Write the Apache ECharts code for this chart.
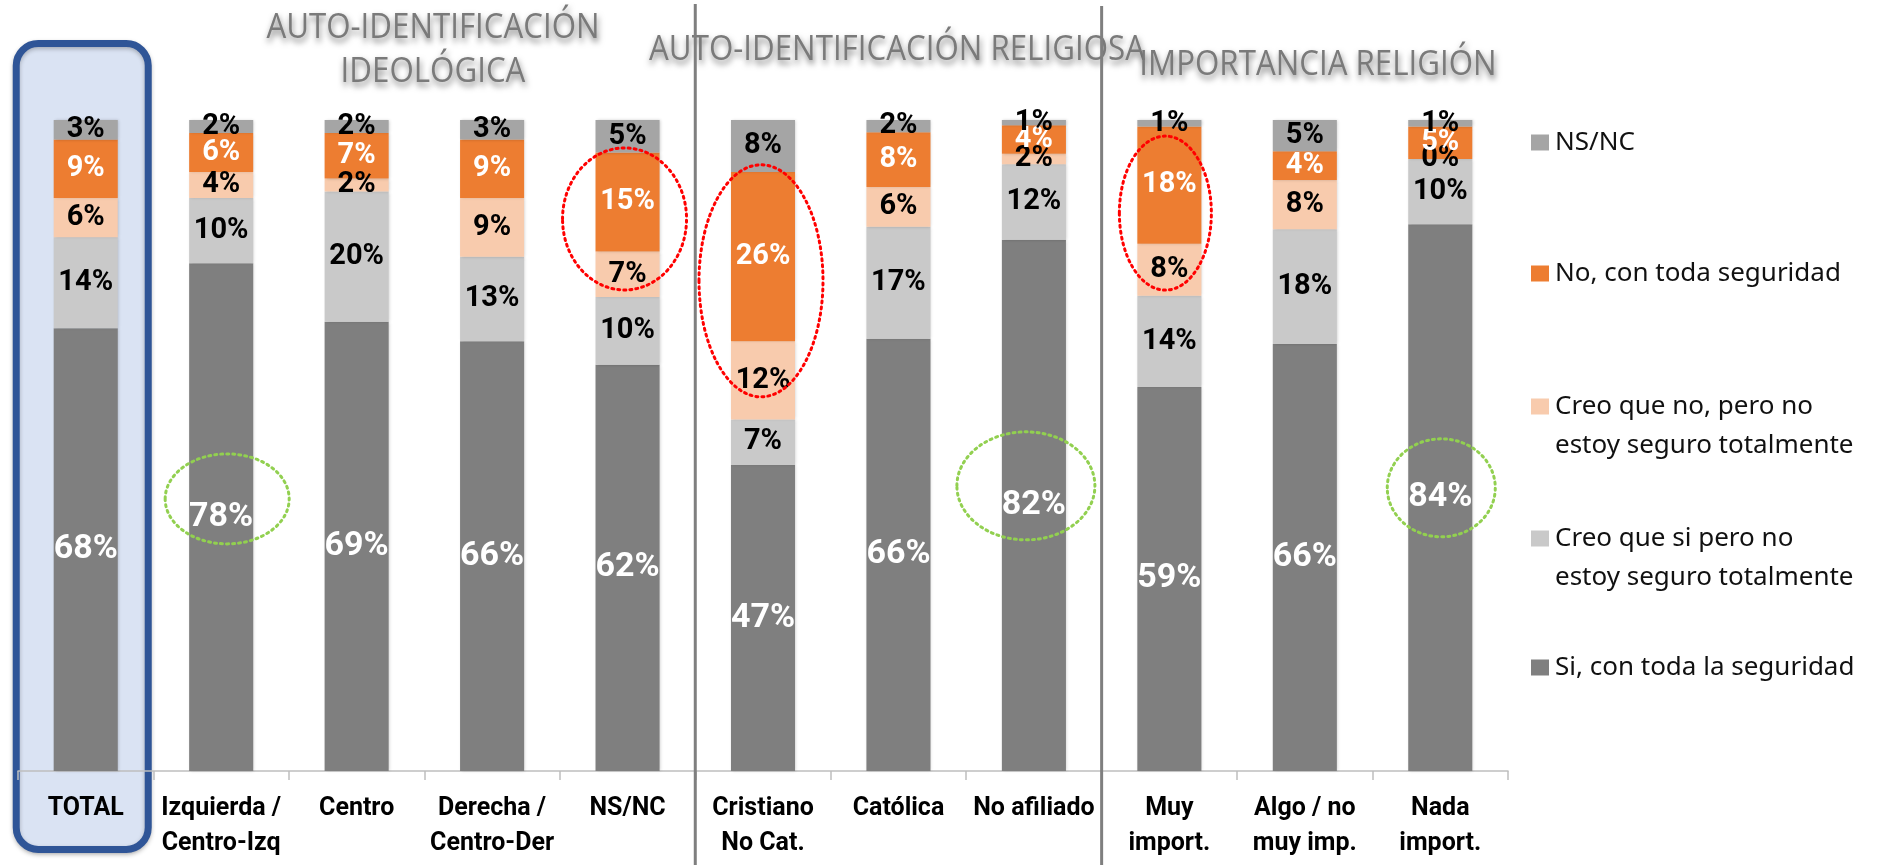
<!DOCTYPE html>
<html>
<head>
<meta charset="utf-8">
<script src="https://cdn.jsdelivr.net/npm/echarts@6/dist/echarts.min.js"></script>
<style>
  html, body { margin: 0; padding: 0; background: #fff; }
  #chart { width: 1881px; height: 865px; }
</style>
</head>
<body>
<div id="chart"></div>
<script>
// categories (x axis)
const categories = ['TOTAL', 'Izquierda /\nCentro-Izq', 'Centro', 'Derecha /\nCentro-Der', 'NS/NC',
  'Cristiano\nNo Cat.', 'Católica', 'No afiliado', 'Muy\nimport.', 'Algo / no\nmuy imp.', 'Nada\nimport.'];

// series values (%), bottom to top of each stack
const siSeguro  = [68, 78, 69, 66, 62.4, 47, 66.4, 81.6, 59, 65.6, 84];
const creoQueSi = [14, 10, 20, 13, 10.4, 7, 17.2, 11.6, 14, 17.6, 10];
const creoQueNo = [6, 4, 2, 9, 7, 12, 6.1, 1.6, 8, 7.6, 0];
const noSeguro  = [9, 6, 7, 9, 15.2, 26, 8.4, 4.4, 18, 4.4, 5];
const nsnc      = [3, 2, 2, 3, 5, 8, 1.9, 0.8, 1, 4.8, 1];

const seriesNames = ['Si, con toda la seguridad', 'Creo que si pero no\nestoy seguro totalmente',
  'Creo que no, pero no\nestoy seguro totalmente', 'No, con toda seguridad', 'NS/NC'];

// group headings
const groupTitles = ['AUTO-IDENTIFICACIÓN', 'IDEOLÓGICA', 'AUTO-IDENTIFICACIÓN RELIGIOSA', 'IMPORTANCIA RELIGIÓN'];

let chart = echarts.init(document.getElementById('chart'));

function barSeries(name, data, color, labelColor, labelSize) {
  return {
    name: name,
    type: 'bar',
    stack: 'total',
    barWidth: '47.3%',
    data: data,
    itemStyle: { color: color, shadowColor: 'rgba(0,0,0,0.18)', shadowBlur: 3, shadowOffsetX: 1 },
    label: {
      show: true,
      position: 'inside',
      color: labelColor,
      fontFamily: 'Roboto',
      fontWeight: 'bold',
      fontSize: labelSize,
      formatter: p => Math.round(p.value) + '%'
    }
  };
}

// one legend per entry so the uneven spacing of the original can be kept
const legendTops = [123, 254, 387, 519, 648];
const legendOrder = [4, 3, 2, 1, 0];
const squareIcon = 'path://M0,0L18,0L18,16L0,16Z';
const tallIcon = 'path://M0,0L18,0L18,16L0,16ZM0,55L0.05,55';

chart.setOption({
  animation: false,
  grid: { left: 18, right: 373, top: 120, bottom: 94 },
  legend: legendOrder.map((si, i) => ({
    data: [seriesNames[si]],
    left: 1531,
    top: legendTops[i],
    padding: 0,
    orient: 'vertical',
    selectedMode: false,
    itemWidth: 18,
    itemHeight: seriesNames[si].indexOf('\n') >= 0 ? 55 : 16,
    icon: seriesNames[si].indexOf('\n') >= 0 ? tallIcon : squareIcon,
    textStyle: { fontFamily: 'Noto Sans', fontSize: 26, lineHeight: 39, color: '#111', padding: [0, 0, 0, 1] }
  })),
  xAxis: {
    type: 'category',
    data: categories,
    axisLine: { lineStyle: { color: '#bfbfbf', width: 1.5 } },
    axisTick: { show: true, length: 9, lineStyle: { color: '#bfbfbf', width: 1.5 } },
    axisLabel: {
      interval: 0,
      margin: 20,
      color: '#000',
      fontFamily: 'Roboto',
      fontWeight: 'bold',
      fontSize: 25,
      lineHeight: 35
    }
  },
  yAxis: {
    type: 'value',
    min: 0,
    max: 100,
    show: false,
    splitLine: { show: false }
  },
  series: [
    barSeries(seriesNames[0], siSeguro, '#7f7f7f', '#fff', 34),
    barSeries(seriesNames[1], creoQueSi, '#c9c9c9', '#000', 29),
    barSeries(seriesNames[2], creoQueNo, '#f8cbad', '#000', 29),
    barSeries(seriesNames[3], noSeguro, '#ed7d31', '#fff', 29),
    barSeries(seriesNames[4], nsnc, '#a5a5a5', '#000', 29)
  ]
});

// decorations anchored on the axes
function px(cat) { return chart.convertToPixel({ xAxisIndex: 0 }, cat); }
function py(v) { return chart.convertToPixel({ yAxisIndex: 0 }, v); }

const circled = [
  { cat: 4, value: 84.8, rx: 62, ry: 71, dx: -3, color: '#ff0000' },
  { cat: 5, value: 75.3, rx: 62, ry: 116, dx: -2, color: '#ff0000' },
  { cat: 8, value: 85.7, rx: 46, ry: 77, dx: -4, color: '#ff0000' },
  { cat: 1, value: 41.8, rx: 62, ry: 45, dx: 6, color: '#92d050' },
  { cat: 7, value: 43.8, rx: 69, ry: 54, dx: -8, color: '#92d050' },
  { cat: 10, value: 43.5, rx: 54, ry: 49, dx: 1, color: '#92d050' }
];

let graphics = [];
let c0 = px(0);
graphics.push({
  type: 'rect', z: -10,
  shape: { x: c0 - 73 + 3.5, y: 43.5, width: 139 - 7, height: 806, r: 22 },
  style: { fill: '#dae3f3', stroke: '#2f5597', lineWidth: 7, shadowColor: 'rgba(0,0,0,0.25)', shadowBlur: 4, shadowOffsetY: 2 }
});

const titleSpots = [[433, 28], [433, 72], [897, 50], [1318, 65]];
groupTitles.forEach((t, i) => {
  graphics.push({
    type: 'text', z: 20,
    x: titleSpots[i][0], y: titleSpots[i][1], scaleX: 0.92,
    style: {
      text: t, fill: '#7a7a7a', font: '34px "Open Sans"',
      align: 'center', verticalAlign: 'middle',
      textShadowColor: 'rgba(0,0,0,0.55)', textShadowBlur: 6,
      textShadowOffsetX: 1, textShadowOffsetY: 4
    }
  });
});

[[4, 4], [7, 6]].forEach(b => {
  let x = (px(b[0]) + px(b[0] + 1)) / 2;
  graphics.push({
    type: 'line', z: 50,
    shape: { x1: x, y1: b[1], x2: x, y2: 865 },
    style: { stroke: '#7f7f7f', lineWidth: 3 }
  });
});

circled.forEach(c => {
  graphics.push({
    type: 'ellipse', z: 100,
    shape: { cx: px(c.cat) + c.dx, cy: py(c.value), rx: c.rx, ry: c.ry },
    style: { fill: null, stroke: c.color, lineWidth: 3, lineDash: [2, 4], lineCap: 'round' }
  });
});

chart.setOption({ graphic: graphics });
</script>
</body>
</html>
